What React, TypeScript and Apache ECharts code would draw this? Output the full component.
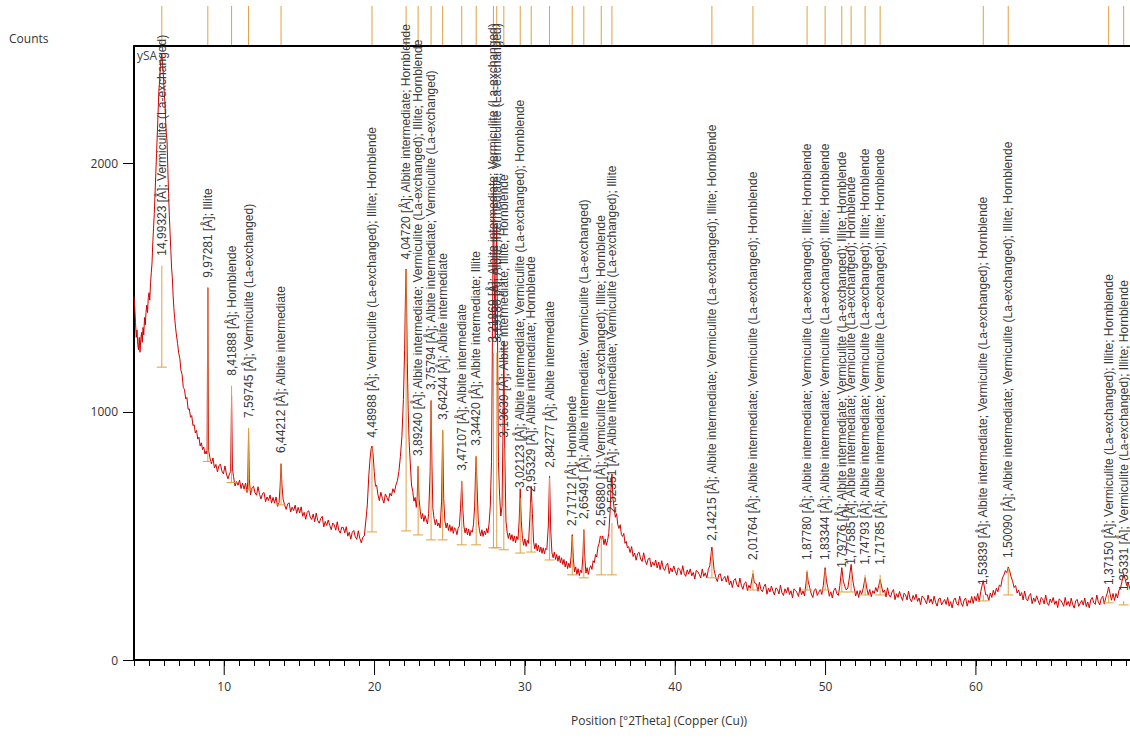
import React, { useEffect, useRef } from 'react';
import * as echarts from 'echarts';

// XRD pattern: [2Theta, counts]
const pattern: [number, number][] = [
  [4.00,1464],[4.05,1420],[4.10,1360],[4.15,1300],[4.20,1330],[4.25,1270],[4.30,1250],[4.35,1300],[4.40,1240],[4.45,1290],
  [4.50,1320],[4.55,1280],[4.60,1340],[4.65,1310],[4.70,1380],[4.75,1350],[4.80,1400],[4.85,1430],[4.90,1400],[4.95,1460],
  [5.00,1480],[5.05,1450],[5.10,1520],[5.15,1560],[5.20,1600],[5.25,1680],[5.30,1740],[5.35,1800],[5.40,1880],[5.45,1960],
  [5.50,2040],[5.55,2120],[5.60,2200],[5.65,2290],[5.70,2330],[5.75,2390],[5.80,2420],[5.85,2445],[5.90,2400],[5.95,2360],
  [6.00,2300],[6.05,2250],[6.10,2180],[6.15,2120],[6.20,2090],[6.25,1980],[6.30,1880],[6.35,1790],[6.40,1720],[6.45,1650],
  [6.50,1580],[6.55,1540],[6.60,1470],[6.65,1420],[6.70,1380],[6.75,1350],[6.80,1320],[6.90,1275],[6.97,1238],[7.05,1215],
  [7.12,1168],[7.20,1150],[7.28,1098],[7.36,1090],[7.44,1052],[7.52,1058],[7.60,1010],[7.68,1012],[7.76,978],[7.84,985],
  [7.92,945],[8.00,948],[8.08,915],[8.16,925],[8.24,890],[8.32,898],[8.40,862],[8.48,875],[8.56,848],[8.64,858],
  [8.72,830],[8.80,842],[8.86,830],[8.91,1500],[8.96,845],
  [9.05,815],[9.15,790],[9.25,814],[9.35,774],[9.45,788],[9.55,758],[9.65,784],[9.75,789],[9.85,761],[9.95,750],
  [10.05,782],[10.15,749],[10.25,730],[10.35,750],[10.43,760],[10.49,1065],[10.55,770],
  [10.62,739],[10.72,701],[10.82,719],[10.92,704],[11.02,725],[11.12,691],[11.22,713],[11.32,689],[11.42,713],[11.52,675],
  [11.57,720],[11.62,920],[11.67,730],
  [11.75,666],[11.85,694],[11.95,700],[12.05,674],[12.15,664],[12.25,698],[12.35,667],[12.45,649],[12.55,671],[12.65,675],
  [12.75,638],[12.85,657],[12.95,643],[13.05,665],[13.15,632],[13.25,655],[13.35,632],[13.45,657],[13.55,619],[13.65,635],
  [13.72,700],[13.78,790],[13.84,705],
  [13.92,648],[14.02,624],[14.12,607],[14.22,629],[14.32,633],[14.42,596],[14.52,616],[14.62,602],[14.72,624],[14.82,591],
  [14.92,615],[15.02,592],[15.12,617],[15.22,579],[15.32,595],[15.42,567],[15.52,595],[15.62,602],[15.72,576],[15.82,566],
  [15.92,588],[16.02,557],[16.12,592],[16.22,562],[16.32,551],[16.42,570],[16.52,579],[16.62,536],[16.72,558],[16.82,542],
  [16.92,564],[17.02,542],[17.12,525],[17.22,552],[17.32,544],[17.42,523],[17.52,557],[17.62,523],[17.72,511],[17.82,535],
  [17.92,534],[18.02,512],[18.12,537],[18.22,499],[18.32,515],[18.42,487],[18.52,515],[18.62,522],[18.72,496],[18.82,486],
  [18.92,521],[19.02,490],[19.12,472],[19.22,495],[19.32,500],
  [19.42,560],[19.52,625],[19.62,745],[19.70,810],[19.77,850],[19.83,862],[19.90,830],[19.98,760],[20.06,700],[20.14,705],
  [20.22,668],[20.32,642],[20.42,676],[20.52,651],[20.62,632],[20.72,669],[20.82,655],[20.92,640],[21.02,672],[21.12,661],
  [21.22,690],[21.32,675],[21.42,705],[21.52,722],[21.62,760],[21.72,820],[21.82,900],[21.92,1050],[22.00,1250],[22.06,1480],
  [22.10,1575],[22.14,1400],[22.18,1200],[22.24,1000],[22.30,880],[22.38,790],[22.46,705],[22.54,680],[22.62,640],[22.70,655],
  [22.78,615],[22.84,660],[22.90,780],[22.96,650],[23.04,600],[23.12,568],[23.20,590],[23.28,558],[23.36,582],[23.44,565],
  [23.52,548],[23.60,590],[23.70,760],[23.76,1045],[23.82,780],[23.88,610],[23.96,570],[24.04,545],[24.12,566],[24.20,540],
  [24.28,552],[24.36,532],[24.46,640],[24.53,925],[24.60,650],[24.68,560],[24.76,532],[24.84,552],[24.92,522],[25.00,545],
  [25.08,518],[25.16,538],[25.24,510],[25.32,533],[25.40,525],[25.48,505],[25.56,530],[25.64,540],[25.72,610],[25.80,720],
  [25.86,620],[25.94,540],[26.02,512],[26.10,532],[26.18,505],[26.26,528],[26.34,500],[26.42,522],[26.50,515],[26.58,545],
  [26.66,620],[26.72,760],[26.76,820],[26.82,700],[26.90,560],[26.98,522],[27.06,500],[27.14,525],[27.22,498],[27.30,520],
  [27.38,505],[27.46,530],[27.54,512],[27.62,550],[27.70,620],[27.78,800],[27.84,1300],[27.91,1930],[27.97,1500],[28.03,1300],
  [28.08,1600],[28.13,1750],[28.18,1300],[28.24,800],[28.32,660],[28.40,580],[28.48,620],[28.54,900],[28.60,1280],[28.66,850],
  [28.74,560],[28.82,515],[28.90,490],[28.98,512],[29.06,485],[29.14,505],[29.22,478],[29.30,500],[29.38,472],[29.46,498],
  [29.54,485],[29.62,560],[29.69,690],[29.76,560],[29.84,490],[29.92,462],[30.00,488],[30.08,458],[30.16,482],[30.24,470],
  [30.34,580],[30.42,700],[30.50,590],[30.58,475],[30.66,448],[30.74,470],[30.82,440],[30.90,462],[30.98,435],[31.06,455],
  [31.14,430],[31.22,452],[31.30,428],[31.38,450],[31.46,445],[31.56,540],[31.64,740],[31.72,520],[31.80,432],[31.88,412],
  [31.96,435],[32.04,405],[32.12,425],[32.20,398],[32.28,420],[32.36,392],[32.44,412],[32.52,385],[32.60,405],[32.68,375],
  [32.76,398],[32.84,368],[32.92,390],[33.00,372],[33.08,420],[33.15,505],[33.22,410],[33.30,355],[33.38,375],[33.46,345],
  [33.54,368],[33.62,340],[33.70,362],[33.78,352],[33.86,420],[33.92,525],[33.98,420],[34.06,350],[34.14,372],[34.22,345],
  [34.30,368],[34.38,380],[34.46,365],[34.54,400],[34.62,392],[34.70,425],[34.78,415],[34.86,455],[34.94,470],[35.02,500],
  [35.10,485],[35.18,500],[35.26,465],[35.34,488],[35.42,462],[35.50,482],[35.58,510],[35.66,590],[35.72,680],[35.79,750],
  [35.86,650],[35.94,610],[36.02,575],[36.10,590],[36.18,545],[36.26,530],[36.34,545],[36.42,505],[36.50,498],[36.58,510],
  [36.66,470],[36.74,478],[36.82,452],
  [36.9,457],[37.0,433],[37.1,457],[37.2,417],[37.3,431],[37.4,402],[37.5,429],[37.6,434],[37.7,407],[37.8,397],
  [37.9,432],[38.0,402],[38.1,384],[38.2,407],[38.3,411],[38.4,375],[38.5,394],[38.6,381],[38.7,403],[38.8,371],
  [38.9,394],[39.0,364],[39.1,400],[39.2,370],[39.3,361],[39.4,381],[39.5,390],[39.6,348],[39.7,371],[39.8,355],
  [39.9,379],[40.0,358],[40.1,342],[40.2,371],[40.3,365],[40.4,344],[40.5,380],[40.6,348],[40.7,337],[40.8,363],
  [40.9,346],[41.0,367],[41.1,339],[41.2,353],[41.3,326],[41.4,361],[41.5,356],[41.6,345],[41.7,331],[41.8,367],
  [41.9,337],[42.0,351],[42.1,331],[42.2,364],[42.3,380],[42.37,420],[42.44,455],[42.51,410],[42.58,365],
  [42.7,332],[42.8,316],[42.9,344],[43.0,347],[43.1,318],[43.2,328],[43.3,337],[43.4,314],[43.5,340],[43.6,303],
  [43.7,319],[43.8,292],[43.9,321],[44.0,328],[44.1,303],[44.2,294],[44.3,330],[44.4,301],[44.5,285],[44.6,309],
  [44.7,315],[44.8,280],[44.9,301],[45.0,289],[45.08,318],[45.17,348],[45.26,312],
  [45.4,307],[45.5,277],[45.6,313],[45.7,284],[45.8,275],[45.9,296],[46.0,306],[46.1,265],[46.2,289],[46.3,274],
  [46.4,298],[46.5,278],[46.6,262],[46.7,291],[46.8,285],[46.9,266],[47.0,302],[47.1,271],[47.2,260],[47.3,287],
  [47.4,271],[47.5,293],[47.6,264],[47.7,279],[47.8,251],[47.9,287],[48.0,281],[48.1,271],[48.2,256],[48.3,293],
  [48.4,263],[48.5,278],[48.6,258],[48.7,310],[48.77,355],[48.84,318],
  [48.95,291],[49.05,266],[49.15,252],[49.25,282],[49.35,287],[49.45,260],[49.55,273],[49.65,284],[49.75,264],[49.85,300],
  [49.97,372],[50.06,318],[50.15,292],[50.25,257],[50.35,275],[50.45,250],[50.55,281],[50.65,290],[50.75,267],[50.85,260],
  [50.95,300],[51.08,372],[51.18,318],[51.28,297],[51.38,282],[51.48,290],[51.58,330],[51.70,385],[51.80,325],[51.90,290],
  [52.00,258],[52.10,279],[52.20,252],[52.30,280],[52.40,265],[52.50,288],[52.63,332],[52.74,290],[52.84,262],[52.94,284],
  [53.04,255],[53.14,279],[53.24,268],[53.34,292],[53.44,275],[53.54,300],[53.63,325],[53.72,298],[53.82,272],
  [53.92,282],[54.02,254],[54.12,291],[54.22,262],[54.32,253],[54.42,274],[54.52,284],[54.62,243],[54.72,267],[54.82,252],
  [54.92,276],[55.02,256],[55.12,240],[55.22,269],[55.32,263],[55.42,242],[55.52,278],[55.62,246],[55.72,235],[55.82,260],
  [55.92,244],[56.02,265],[56.12,236],[56.22,250],[56.32,223],[56.42,258],[56.52,252],[56.62,241],[56.72,226],[56.82,262],
  [56.92,231],[57.02,246],[57.12,225],[57.22,257],[57.32,232],[57.42,217],[57.52,246],[57.62,250],[57.72,222],[57.82,234],
  [57.92,244],[58.02,224],[58.12,252],[58.22,217],[58.32,235],[58.42,210],[58.52,241],[58.62,250],[58.72,227],[58.82,220],
  [58.92,257],[59.02,230],[59.12,216],[59.22,242],[59.32,250],[59.42,217],[59.52,240],[59.62,230],[59.72,256],[59.82,228],
  [59.92,256],[60.02,238],[60.12,268],[60.22,235],[60.32,275],[60.41,300],[60.49,320],[60.57,290],[60.66,262],[60.76,263],
  [60.86,240],[60.96,270],[61.06,252],[61.16,281],[61.26,262],[61.36,289],[61.46,275],[61.56,302],[61.66,296],[61.76,330],
  [61.86,342],[61.96,360],[62.06,352],[62.15,375],[62.24,360],[62.34,335],[62.44,318],[62.54,292],[62.64,300],[62.74,270],
  [62.84,282],[62.94,258],
  [63.04,272],[63.14,242],[63.24,278],[63.34,248],[63.44,238],[63.54,259],[63.64,268],[63.74,227],[63.84,250],[63.94,235],
  [64.04,259],[64.14,239],[64.24,223],[64.34,252],[64.44,246],[64.54,226],[64.64,262],[64.74,231],[64.84,220],[64.94,246],
  [65.04,231],[65.14,252],[65.24,224],[65.34,238],[65.44,211],[65.54,246],[65.64,241],[65.74,230],[65.84,216],[65.94,252],
  [66.04,221],[66.14,236],[66.24,216],[66.34,249],[66.44,223],[66.54,209],[66.64,239],[66.74,244],[66.84,216],[66.94,229],
  [67.04,240],[67.14,221],[67.24,250],[67.34,215],[67.44,234],[67.54,210],[67.64,242],[67.74,252],[67.84,230],[67.94,224],
  [68.04,262],[68.14,235],[68.24,222],[68.34,248],[68.44,257],[68.54,225],[68.64,252],[68.74,270],[68.83,294],[68.92,268],
  [69.02,241],[69.12,268],[69.22,240],[69.32,268],[69.42,250],[69.52,282],[69.62,290],[69.72,318],[69.83,348],[69.93,325],
  [70.03,300],[70.13,312],[70.25,285]
];

// Reference peak list
const refPos = [5.85, 8.91, 10.49, 11.62, 13.78, 19.83, 22.10, 22.90, 23.76, 24.53, 25.80, 26.76, 27.91, 28.13, 28.60, 29.69, 30.42, 31.64, 33.15, 33.92, 35.08, 35.79, 42.44, 45.17, 48.77, 49.97, 51.08, 51.70, 52.63, 53.63, 60.49, 62.15, 68.83, 69.83];
const refBase = [1180, 800, 715, 685, 625, 516, 520, 504, 484, 484, 464, 464, 452, 452, 444, 431, 435, 403, 343, 331, 343, 343, 331, 282, 282, 282, 274, 274, 262, 262, 238, 262, 230, 222];
const refTop = [1589, 1500, 1105, 935, 794, 855, 1573, 782, 1048, 927, 722, 823, 1238, 1238, 855, 653, 637, 734, 500, 528, 500, 552, 440, 363, 363, 363, 331, 343, 343, 343, 262, 371, 262, 238];
const refLabels = [
  '14,99323 [Å]; Vermiculite (La-exchanged)',
  '9,97281 [Å]; Illite',
  '8,41888 [Å]; Hornblende',
  '7,59745 [Å]; Vermiculite (La-exchanged)',
  '6,44212 [Å]; Albite intermediate',
  '4,48988 [Å]; Vermiculite (La-exchanged); Illite; Hornblende',
  '4,04720 [Å]; Albite intermediate; Hornblende',
  '3,89240 [Å]; Albite intermediate; Vermiculite (La-exchanged); Illite; Hornblende',
  '3,75794 [Å]; Albite intermediate; Vermiculite (La-exchanged)',
  '3,64244 [Å]; Albite intermediate',
  '3,47107 [Å]; Albite intermediate',
  '3,34420 [Å]; Albite intermediate; Illite',
  '3,21869 [Å]; Albite intermediate; Vermiculite (La-exchanged)',
  '3,19180 [Å]; Albite intermediate; Vermiculite (La-exchanged)',
  '3,13639 [Å]; Albite intermediate; Illite; Hornblende',
  '3,02123 [Å]; Albite intermediate; Vermiculite (La-exchanged); Hornblende',
  '2,95329 [Å]; Albite intermediate; Hornblende',
  '2,84277 [Å]; Albite intermediate',
  '2,71712 [Å]; Hornblende',
  '2,65491 [Å]; Albite intermediate; Vermiculite (La-exchanged)',
  '2,56880 [Å]; Vermiculite (La-exchanged); Illite; Hornblende',
  '2,52351 [Å]; Albite intermediate; Vermiculite (La-exchanged); Illite',
  '2,14215 [Å]; Albite intermediate; Vermiculite (La-exchanged); Illite; Hornblende',
  '2,01764 [Å]; Albite intermediate; Vermiculite (La-exchanged); Hornblende',
  '1,87780 [Å]; Albite intermediate; Vermiculite (La-exchanged); Illite; Hornblende',
  '1,83344 [Å]; Albite intermediate; Vermiculite (La-exchanged); Illite; Hornblende',
  '1,79776 [Å]; Albite intermediate; Vermiculite (La-exchanged); Illite; Hornblende',
  '1,77585 [Å]; Albite intermediate; Vermiculite (La-exchanged); Hornblende',
  '1,74793 [Å]; Albite intermediate; Vermiculite (La-exchanged); Illite; Hornblende',
  '1,71785 [Å]; Albite intermediate; Vermiculite (La-exchanged); Illite; Hornblende',
  '1,53839 [Å]; Albite intermediate; Vermiculite (La-exchanged); Hornblende',
  '1,50090 [Å]; Albite intermediate; Vermiculite (La-exchanged); Illite; Hornblende',
  '1,37150 [Å]; Vermiculite (La-exchanged); Illite; Hornblende',
  '1,35331 [Å]; Vermiculite (La-exchanged); Illite; Hornblende'
];

const xMajorTicks = [10, 20, 30, 40, 50, 60];
const yTicks = [0, 1000, 2000];
const X_MIN = 4;
const X_MAX = 70.25;
const Y_MAX = 2474;

const FONT = '"Open Sans", "Liberation Sans", Arial, sans-serif';
const LABEL_FONT = '"Liberation Sans", Arial, sans-serif';
const MARK = '#e0a040';

export default function App() {
  const ref = useRef<HTMLDivElement>(null);
  useEffect(() => {
    const chart = echarts.init(ref.current as HTMLDivElement, null, { renderer: 'svg' });
    const minorTicks: number[] = [];
    for (let v = 4; v <= 70; v++) minorTicks.push(v);
    const markerData = refPos.map((p, i) => [p, refBase[i], refTop[i], i]);

    chart.setOption({
      animation: false,
      backgroundColor: '#ffffff',
      grid: { left: 134, top: 46, right: 0, bottom: 78 },
      xAxis: [
        {
          type: 'value', min: X_MIN, max: X_MAX, position: 'bottom',
          axisLine: { show: true, lineStyle: { color: '#000', width: 2 } },
          axisTick: { show: true, customValues: minorTicks, length: 6, lineStyle: { color: '#000', width: 1 } },
          axisLabel: { customValues: xMajorTicks, color: '#333', fontSize: 12, margin: 20, fontFamily: FONT, formatter: (v: number) => String(v) },
          splitLine: { show: false }
        },
        {
          type: 'value', min: X_MIN, max: X_MAX, position: 'top',
          axisLine: { show: true, lineStyle: { color: '#000', width: 2 } },
          axisTick: { show: false }, axisLabel: { show: false }, splitLine: { show: false }
        }
      ],
      yAxis: {
        type: 'value', min: 0, max: Y_MAX,
        axisLine: { show: true, lineStyle: { color: '#000', width: 2 } },
        axisTick: { show: true, customValues: yTicks, length: 11, lineStyle: { color: '#000', width: 1 } },
        axisLabel: { customValues: yTicks, color: '#333', fontSize: 12, margin: 16, fontFamily: FONT, formatter: (v: number) => String(v) },
        splitLine: { show: false }
      },
      graphic: [
        { type: 'text', left: 9, top: 32, style: { text: 'Counts', fill: '#333', fontSize: 12, fontFamily: FONT } },
        { type: 'text', left: 137, top: 49, style: { text: 'ySA', fill: '#444', fontSize: 12, fontFamily: FONT } },
        { type: 'text', x: 659, y: 720, style: { text: 'Position [°2Theta] (Copper (Cu))', fill: '#333', fontSize: 12, fontFamily: FONT, align: 'center', verticalAlign: 'middle' } }
      ],
      series: [
        {
          type: 'line', xAxisIndex: 0, yAxisIndex: 0, data: pattern, symbol: 'none', silent: true,
          lineStyle: { color: '#d40000', width: 1 }, z: 2
        },
        {
          type: 'custom', xAxisIndex: 0, yAxisIndex: 0, clip: false, silent: true, z: 3,
          data: xMajorTicks.map((v) => [v, 0]),
          renderItem: (_p: any, api: any) => {
            const c = api.coord([api.value(0), 0]);
            return { type: 'line', shape: { x1: c[0], y1: c[1], x2: c[0], y2: c[1] + 15 }, style: { stroke: '#000', lineWidth: 1 } };
          }
        },
        {
          type: 'custom', xAxisIndex: 0, yAxisIndex: 0, clip: false, silent: true, z: 4,
          data: markerData,
          renderItem: (_p: any, api: any) => {
            const x = api.value(0);
            const pb = api.coord([x, api.value(1)]);
            const pt = api.coord([x, api.value(2)]);
            const ptop = api.coord([x, Y_MAX]);
            const idx = api.value(3);
            return {
              type: 'group',
              children: [
                { type: 'line', shape: { x1: pb[0], y1: pb[1], x2: pt[0], y2: pt[1] }, style: { stroke: MARK, lineWidth: 1 } },
                { type: 'line', shape: { x1: pb[0] - 5, y1: pb[1], x2: pb[0] + 5, y2: pb[1] }, style: { stroke: MARK, lineWidth: 1 } },
                { type: 'line', shape: { x1: ptop[0], y1: ptop[1] - 1, x2: ptop[0], y2: ptop[1] - 40 }, style: { stroke: MARK, lineWidth: 1 } },
                {
                  type: 'text', x: pt[0], y: pt[1] - 10, rotation: Math.PI / 2,
                  style: { text: refLabels[idx], fill: '#3a3a3a', fontSize: 12, fontFamily: LABEL_FONT, align: 'left', verticalAlign: 'middle' }
                }
              ]
            };
          }
        }
      ]
    });
    return () => chart.dispose();
  }, []);
  return <div ref={ref} style={{ position: 'absolute', left: 0, top: 0, width: 1130, height: 738, background: '#fff' }} />;
}
